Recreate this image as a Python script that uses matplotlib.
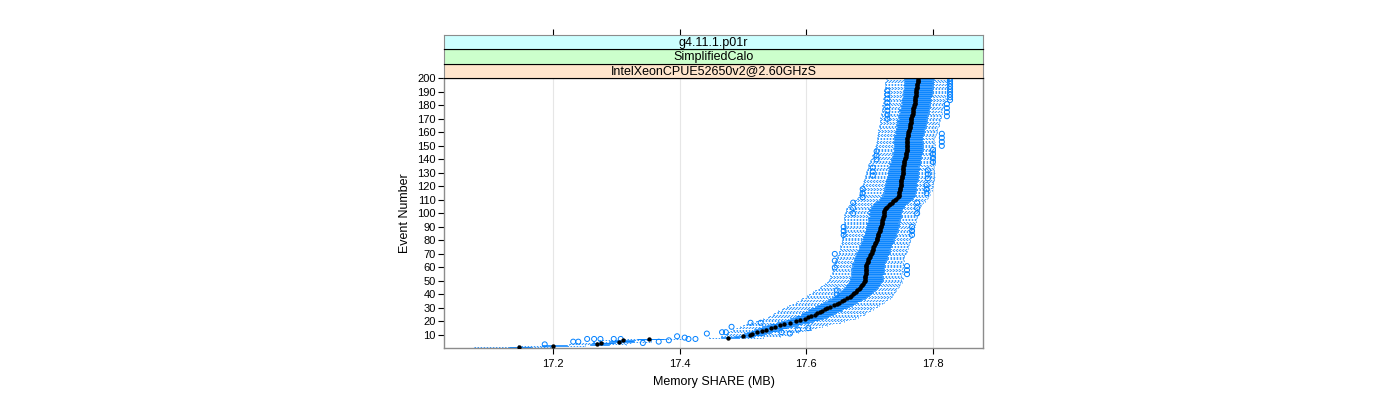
import matplotlib.pyplot as plt
import numpy as np

# median memory share per event (MB), events 1..200
median = [
    17.146, 17.200, 17.270, 17.276, 17.305, 17.310, 17.352, 17.476, 17.500, 17.511,
    17.515, 17.522, 17.530, 17.537, 17.544, 17.551, 17.558, 17.565, 17.575, 17.583,
    17.590, 17.598, 17.603, 17.608, 17.613, 17.617, 17.621, 17.625, 17.629, 17.633,
    17.638, 17.643, 17.648, 17.652, 17.656, 17.660, 17.665, 17.669, 17.671, 17.673,
    17.676, 17.678, 17.680, 17.683, 17.685, 17.686, 17.688, 17.689, 17.691, 17.692,
    17.692, 17.693, 17.693, 17.693, 17.694, 17.694, 17.694, 17.694, 17.695, 17.695,
    17.695, 17.695, 17.696, 17.697, 17.698, 17.698, 17.699, 17.700, 17.701, 17.702,
    17.703, 17.704, 17.705, 17.705, 17.706, 17.707, 17.708, 17.709, 17.710, 17.711,
    17.711, 17.712, 17.713, 17.714, 17.714, 17.715, 17.716, 17.717, 17.717, 17.718,
    17.718, 17.719, 17.719, 17.720, 17.720, 17.721, 17.721, 17.722, 17.722, 17.722,
    17.723, 17.723, 17.724, 17.726, 17.728, 17.730, 17.732, 17.735, 17.737, 17.740,
    17.742, 17.745, 17.746, 17.746, 17.747, 17.747, 17.748, 17.748, 17.748, 17.749,
    17.749, 17.749, 17.750, 17.750, 17.750, 17.751, 17.751, 17.751, 17.752, 17.752,
    17.752, 17.752, 17.753, 17.753, 17.753, 17.754, 17.754, 17.755, 17.755, 17.756,
    17.756, 17.757, 17.757, 17.758, 17.758, 17.759, 17.759, 17.759, 17.759, 17.759,
    17.759, 17.759, 17.759, 17.759, 17.759, 17.759, 17.760, 17.760, 17.761, 17.761,
    17.762, 17.762, 17.763, 17.763, 17.764, 17.764, 17.765, 17.765, 17.765, 17.766,
    17.766, 17.767, 17.767, 17.768, 17.768, 17.768, 17.769, 17.769, 17.770, 17.770,
    17.771, 17.771, 17.771, 17.772, 17.772, 17.772, 17.773, 17.773, 17.774, 17.774,
    17.774, 17.774, 17.775, 17.775, 17.775, 17.775, 17.776, 17.776, 17.776, 17.776,
]

# distances from the median, in kB (thousandths of MB)
box_lo = [
    15, 18, 12, 14, 16, 12, 20, 10, 12, 13,
    14, 16, 18, 20, 19, 21, 20, 22, 21, 22,
    22, 23, 21, 24, 22, 23, 24, 22, 25, 24,
    25, 24, 26, 25, 24, 26, 25, 27, 25, 24,
    26, 25, 24, 25, 26, 24, 25, 23, 24, 25,
    23, 24, 22, 23, 24, 22, 23, 22, 24, 23,
    22, 23, 24, 22, 23, 22, 24, 23, 22, 23,
    24, 22, 23, 22, 23, 24, 22, 23, 24, 22,
    23, 22, 24, 23, 22, 23, 24, 22, 23, 24,
    22, 23, 24, 23, 22, 24, 23, 22, 23, 24,
    23, 24, 25, 24, 26, 25, 26, 27, 26, 25,
    26, 27, 25, 26, 24, 25, 26, 24, 25, 24,
    25, 24, 23, 25, 24, 23, 24, 22, 23, 24,
    22, 23, 22, 24, 23, 22, 23, 21, 22, 23,
    21, 22, 20, 21, 22, 20, 21, 22, 20, 21,
    20, 21, 22, 20, 21, 20, 22, 21, 20, 21,
    22, 20, 21, 20, 22, 21, 20, 21, 22, 20,
    21, 20, 22, 21, 20, 21, 22, 20, 21, 22,
    20, 21, 20, 22, 21, 20, 21, 22, 20, 21,
    22, 20, 21, 20, 22, 21, 20, 21, 22, 21,
]
box_hi = [
    20, 22, 18, 20, 22, 18, 24, 16, 18, 20,
    20, 22, 24, 25, 26, 25, 27, 26, 28, 27,
    28, 27, 29, 28, 27, 29, 28, 30, 28, 29,
    28, 29, 27, 28, 29, 27, 28, 26, 27, 28,
    27, 26, 28, 27, 26, 27, 28, 26, 27, 28,
    27, 28, 26, 27, 28, 29, 27, 28, 26, 27,
    28, 27, 26, 28, 27, 29, 28, 27, 26, 28,
    27, 28, 26, 27, 28, 27, 26, 28, 27, 28,
    26, 27, 28, 27, 26, 28, 27, 28, 26, 27,
    28, 27, 26, 28, 27, 26, 28, 27, 28, 26,
    27, 28, 26, 27, 26, 25, 26, 24, 25, 26,
    25, 24, 25, 26, 25, 24, 26, 25, 24, 25,
    26, 25, 24, 25, 26, 24, 25, 26, 25, 24,
    25, 24, 26, 25, 24, 25, 26, 24, 25, 24,
    25, 24, 23, 25, 24, 23, 24, 25, 23, 24,
    24, 25, 23, 24, 25, 24, 23, 25, 24, 25,
    24, 23, 25, 24, 25, 23, 24, 25, 24, 23,
    25, 24, 23, 25, 24, 25, 23, 24, 25, 24,
    23, 25, 24, 25, 24, 23, 25, 24, 25, 24,
    25, 24, 23, 25, 24, 25, 24, 23, 25, 24,
]
whisk_lo = [
    70, 55, 45, 40, 42, 38, 40, 30, 35, 38,
    40, 45, 50, 52, 55, 56, 58, 60, 62, 63,
    65, 66, 64, 67, 66, 68, 67, 69, 68, 70,
    69, 71, 70, 68, 70, 69, 71, 68, 70, 69,
    67, 68, 66, 65, 64, 63, 62, 60, 58, 57,
    56, 55, 54, 55, 53, 54, 52, 53, 54, 52,
    53, 52, 51, 53, 52, 51, 50, 52, 51, 50,
    51, 52, 50, 51, 52, 53, 52, 54, 53, 55,
    54, 56, 55, 57, 56, 58, 57, 58, 59, 58,
    59, 60, 59, 61, 60, 61, 62, 61, 62, 61,
    62, 61, 62, 63, 62, 63, 62, 63, 62, 63,
    62, 63, 61, 62, 61, 60, 61, 60, 61, 60,
    61, 60, 59, 60, 59, 58, 59, 58, 57, 58,
    57, 56, 57, 56, 55, 56, 55, 54, 55, 54,
    53, 52, 53, 52, 51, 50, 51, 50, 49, 50,
    49, 48, 49, 48, 47, 48, 47, 48, 47, 48,
    47, 48, 47, 48, 49, 48, 47, 48, 49, 48,
    49, 48, 49, 50, 49, 48, 49, 50, 49, 50,
    49, 50, 49, 50, 51, 50, 49, 50, 51, 50,
    51, 50, 49, 50, 51, 50, 51, 50, 49, 50,
]
whisk_hi = [
    55, 50, 45, 48, 50, 45, 50, 55, 58, 60,
    62, 65, 68, 70, 72, 74, 75, 76, 78, 77,
    78, 79, 78, 77, 78, 76, 77, 75, 76, 74,
    73, 72, 71, 70, 69, 68, 67, 66, 65, 64,
    63, 62, 62, 61, 60, 61, 60, 59, 60, 59,
    58, 59, 58, 57, 58, 57, 58, 57, 56, 57,
    56, 57, 56, 55, 56, 55, 56, 55, 54, 55,
    54, 55, 54, 55, 54, 53, 54, 53, 54, 53,
    54, 53, 54, 53, 52, 53, 52, 53, 52, 53,
    52, 53, 52, 53, 54, 53, 54, 53, 54, 55,
    54, 55, 54, 53, 52, 51, 50, 49, 50, 49,
    48, 47, 48, 49, 48, 49, 50, 49, 50, 51,
    50, 51, 50, 51, 52, 51, 52, 51, 50, 51,
    50, 49, 50, 49, 48, 49, 48, 47, 48, 47,
    46, 47, 46, 45, 46, 45, 44, 45, 44, 43,
    44, 43, 44, 43, 44, 43, 44, 45, 44, 45,
    44, 45, 44, 45, 46, 45, 44, 45, 46, 45,
    46, 45, 46, 47, 46, 45, 46, 47, 46, 47,
    46, 47, 48, 47, 48, 47, 48, 49, 48, 49,
    48, 49, 48, 49, 50, 49, 50, 49, 50, 49,
]

# outliers: event number and value (MB)
out_event = [3, 5, 5, 7, 7, 7, 7, 7, 4, 5, 6, 9, 8, 7, 7, 11, 12, 12, 16, 19, 19,
             12, 11, 14, 15, 40, 43, 60, 65, 70, 55, 58, 61,
             84, 87, 90, 84, 87, 90, 100, 104, 108, 100, 104, 108,
             112, 115, 118, 115, 118, 121, 128, 131, 134, 126, 129, 132,
             140, 143, 146, 138, 141, 144, 147, 150, 153, 156, 159,
             172, 175, 178, 181, 170, 173, 176, 179, 182, 185, 188, 191,
             184, 186, 188, 190, 192, 194, 196, 198, 200]
out_value = [17.187, 17.232, 17.240, 17.254, 17.265, 17.275, 17.296, 17.307, 17.342, 17.367,
             17.383, 17.396, 17.408, 17.414, 17.425, 17.443, 17.467, 17.473, 17.482, 17.512,
             17.528, 17.561, 17.574, 17.587, 17.603, 17.648, 17.648, 17.645, 17.645, 17.645,
             17.759, 17.759, 17.759, 17.659, 17.659, 17.659, 17.767, 17.767, 17.767,
             17.674, 17.674, 17.674, 17.775, 17.775, 17.775, 17.689, 17.689, 17.689,
             17.790, 17.790, 17.790, 17.705, 17.705, 17.705, 17.792, 17.792, 17.792,
             17.711, 17.711, 17.711, 17.800, 17.800, 17.800, 17.800,
             17.814, 17.814, 17.814, 17.814, 17.822, 17.822, 17.822, 17.822,
             17.728, 17.728, 17.728, 17.728, 17.728, 17.728, 17.728, 17.728,
             17.827, 17.827, 17.827, 17.827, 17.827, 17.827, 17.827, 17.827, 17.827]

strip_labels = ["IntelXeonCPUE52650v2@2.60GHzS", "SimplifiedCalo", "g4.11.1.p01r"]
strip_colors = ["#ffe5cc", "#ccffcc", "#ccffff"]

plt.rcParams['font.family'] = ['Liberation Sans', 'DejaVu Sans']
blue = "#0080ff"
grey = "#8c8c8c"

fig = plt.figure(figsize=(14, 4), dpi=100)
left, right = 444 / 1400, 983 / 1400
ax = fig.add_axes([left, 52 / 400, right - left, 270 / 400])

events = np.arange(1, len(median) + 1)
med = np.array(median)
q1 = med - np.array(box_lo) / 1000
q3 = med + np.array(box_hi) / 1000
wlo = med - np.array(whisk_lo) / 1000
whi = med + np.array(whisk_hi) / 1000
h = 0.25
lw = 0.55

ax.grid(axis='x', color='#e6e6e6', lw=0.8, zorder=0)
ax.set_axisbelow(True)

# whiskers (dashed) and staples
ax.hlines(events, wlo, q1, colors=blue, lw=lw, linestyles=(0, (2, 2)), zorder=2)
ax.hlines(events, q3, whi, colors=blue, lw=lw, linestyles=(0, (2, 2)), zorder=2)
ax.vlines(wlo, events - h, events + h, colors=blue, lw=lw, zorder=2)
ax.vlines(whi, events - h, events + h, colors=blue, lw=lw, zorder=2)
# boxes
ax.hlines(events - h, q1, q3, colors=blue, lw=lw, zorder=2)
ax.hlines(events + h, q1, q3, colors=blue, lw=lw, zorder=2)
ax.vlines(q1, events - h, events + h, colors=blue, lw=lw, zorder=2)
ax.vlines(q3, events - h, events + h, colors=blue, lw=lw, zorder=2)
# outliers
ax.scatter(out_value, out_event, s=13, facecolors='none', edgecolors=blue, lw=0.7, zorder=3)
# medians
ax.scatter(med, events, s=10, color='black', zorder=4, lw=0)

ax.set_xlim(17.028, 17.879)
ax.set_ylim(0.3, 200.3)
ax.set_xticks([17.2, 17.4, 17.6, 17.8])
ax.set_xticklabels(["17.2", "17.4", "17.6", "17.8"])
ax.set_yticks(np.arange(10, 201, 10))
ax.tick_params(axis='both', labelsize=8, length=4, color='black', width=0.8, pad=2)
ax.tick_params(axis='x', pad=4)
for s in ax.spines.values():
    s.set_color(grey)
    s.set_linewidth(1)
ax.set_xlabel("Memory SHARE (MB)", fontsize=9, labelpad=5)
ax.set_ylabel("Event Number", fontsize=9, labelpad=4)

# strips
sh = 14.4 / 400
for i, (lab, col) in enumerate(zip(strip_labels, strip_colors)):
    sax = fig.add_axes([left, (322 + i * 14.4) / 400, right - left, sh])
    sax.set_facecolor(col)
    sax.set_xlim(ax.get_xlim())
    sax.set_ylim(0, 1)
    sax.set_yticks([])
    sax.text(0.5, 0.45, lab, transform=sax.transAxes, ha='center', va='center', fontsize=9)
    for s in sax.spines.values():
        s.set_color('black')
        s.set_linewidth(0.8)
    sax.spines['left'].set_color(grey)
    sax.spines['right'].set_color(grey)
    if i == 2:
        sax.spines['top'].set_color(grey)
        sax.xaxis.tick_top()
        sax.set_xticks([17.2, 17.4, 17.6, 17.8])
        sax.set_xticklabels([])
        sax.tick_params(axis='x', length=4, width=0.8)
    else:
        sax.set_xticks([])

fig.savefig("out.png", dpi=100)
